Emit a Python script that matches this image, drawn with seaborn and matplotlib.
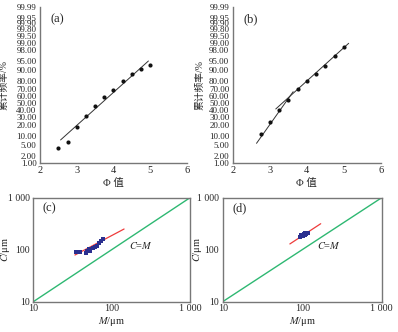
import numpy as np
import pandas as pd
import matplotlib
matplotlib.use("Agg")
import matplotlib.pyplot as plt
import seaborn as sns
from statistics import NormalDist

sns.set_theme(style="white")
plt.rcParams['font.family'] = ['Liberation Serif', 'Noto Sans CJK SC', 'DejaVu Sans']
plt.rcParams['mathtext.fontset'] = 'stix'

# ---- data: panel (a)
phi_a = [2.5, 2.75, 3.0, 3.25, 3.5, 3.75, 4.0, 4.25, 4.5, 4.75, 5.0]
pct_a = [4.0, 6.4, 17.9, 30.3, 44.9, 59.6, 69.3, 79.9, 86.7, 90.8, 92.9]
fit_a_phi = [2.56, 4.95]
fit_a_pct = [7.6, 94.8]

# ---- data: panel (b)
phi_b = [2.75, 3.0, 3.25, 3.5, 3.75, 4.0, 4.25, 4.5, 4.75, 5.0]
pct_b = [11.2, 23.4, 38.8, 55.1, 71.0, 80.3, 87.2, 92.4, 96.7, 98.45]
fit_b1_phi = [2.64, 3.63]
fit_b1_pct = [5.9, 66.9]
fit_b2_phi = [3.16, 5.13]
fit_b2_pct = [40.8, 98.96]

prob_ticks = [1.00, 2.00, 5.00, 10.00, 20.00, 30.00, 40.00, 50.00, 60.00, 70.00,
              80.00, 90.00, 95.00, 98.00, 99.00, 99.50, 99.80, 99.90, 99.95, 99.99]
phi_ticks = [2, 3, 4, 5, 6]

# ---- data: panel (c)
M_c = [35, 37.5, 40, 47, 49, 51.5, 53, 57, 61, 65, 69, 73, 77]
C_c = [90, 91, 89, 88, 94, 101, 96, 108, 115, 120, 134, 148, 160]
fit_c_M = [34, 144]
fit_c_C = [79, 250]

# ---- data: panel (d)
M_d = [94, 97, 100, 102, 105, 107, 110, 113, 116, 118]
C_d = [178, 188, 195, 183, 200, 192, 205, 198, 212, 208]
fit_d_M = [70, 171]
fit_d_C = [129, 316]

cm_line = [10, 1000]
log_ticks = [10, 100, 1000]
log_labels = ['10', '100', '1 000']

nd = NormalDist()
_ppf = np.vectorize(nd.inv_cdf, otypes=[float])
_cdf = np.vectorize(nd.cdf, otypes=[float])

def fwd(p):
    p = np.clip(np.asarray(p, dtype=float) / 100.0, 1e-9, 1 - 1e-9)
    return _ppf(p)

def inv(z):
    return _cdf(np.asarray(z, dtype=float)) * 100.0

fig = plt.figure(figsize=(3.98, 3.32), dpi=100)
ax_a = fig.add_axes([0.1005, 0.509, 0.3693, 0.470])
ax_b = fig.add_axes([0.585, 0.509, 0.372, 0.470])
ax_c = fig.add_axes([0.0837, 0.0913, 0.3937, 0.3132])
ax_d = fig.add_axes([0.5595, 0.0913, 0.3995, 0.3132])

spine_col = '#777777'
cjk = ['Liberation Serif', 'Noto Sans CJK SC']

def style_top(ax, label, ylab_x):
    ax.set_yscale('function', functions=(fwd, inv))
    ax.set_ylim(1.0, 99.99)
    ax.set_xlim(2, 6)
    ax.set_yticks(prob_ticks)
    ax.set_yticklabels([f"{t:.2f}" for t in prob_ticks])
    ax.yaxis.set_minor_locator(matplotlib.ticker.NullLocator())
    ax.set_xticks(phi_ticks)
    ax.set_xticklabels([str(t) for t in phi_ticks])
    for s in ['top', 'right']:
        ax.spines[s].set_visible(False)
    for s in ['left', 'bottom']:
        ax.spines[s].set_color(spine_col)
        ax.spines[s].set_linewidth(1.0)
    ax.tick_params(axis='x', direction='in', length=2.5, width=0.8, color=spine_col,
                   labelsize=7.5, pad=2)
    ax.tick_params(axis='y', direction='out', length=2, width=0.6, color=spine_col,
                   labelsize=6.5, pad=0.5)
    ax.set_xlabel('Φ 值', fontsize=7.5, family=cjk, labelpad=2)
    ax.set_ylabel('累计频率/%', fontsize=7, family=cjk)
    ax.yaxis.set_label_coords(ylab_x, 0.5)
    ax.text(0.07, 0.92, label, transform=ax.transAxes, fontsize=9, ha='left', va='center')

def style_bottom(ax, label, txt_xy, ylab_x):
    ax.set_xscale('log')
    ax.set_yscale('log')
    ax.set_xlim(10, 1000)
    ax.set_ylim(10, 1000)
    ax.set_xticks(log_ticks)
    ax.set_xticklabels(log_labels)
    ax.set_yticks(log_ticks)
    ax.set_yticklabels(log_labels)
    ax.xaxis.set_minor_locator(matplotlib.ticker.NullLocator())
    ax.yaxis.set_minor_locator(matplotlib.ticker.NullLocator())
    for s in ax.spines.values():
        s.set_color(spine_col)
        s.set_linewidth(1.0)
    ax.tick_params(axis='x', direction='in', length=2.5, width=0.8, color=spine_col,
                   labelsize=7.2, pad=2)
    ax.tick_params(axis='y', direction='out', length=2, width=0.8, color=spine_col,
                   labelsize=7.0, pad=0.5)
    ax.set_xlabel('$\\mathit{M}$/μm', fontsize=7.5, labelpad=1)
    ax.set_ylabel('$\\mathit{C}$/μm', fontsize=7.5)
    ax.yaxis.set_label_coords(ylab_x, 0.5)
    ax.text(0.06, 0.90, label, transform=ax.transAxes, fontsize=9, ha='left', va='center')
    ax.text(txt_xy[0], txt_xy[1], '$\\mathit{C}$=$\\mathit{M}$', fontsize=7.5, ha='left', va='center')

# (a)
sns.scatterplot(x=phi_a, y=pct_a, ax=ax_a, color='#111111', s=9, linewidth=0, zorder=3)
sns.lineplot(x=fit_a_phi, y=fit_a_pct, ax=ax_a, color='#333333', linewidth=0.7)
style_top(ax_a, '(a)', -0.215)

# (b)
sns.scatterplot(x=phi_b, y=pct_b, ax=ax_b, color='#111111', s=9, linewidth=0, zorder=3)
sns.lineplot(x=fit_b1_phi, y=fit_b1_pct, ax=ax_b, color='#333333', linewidth=0.7)
sns.lineplot(x=fit_b2_phi, y=fit_b2_pct, ax=ax_b, color='#333333', linewidth=0.7)
style_top(ax_b, '(b)', -0.19)

# (c)
sns.lineplot(x=cm_line, y=cm_line, ax=ax_c, color='#2eb872', linewidth=1.0)
sns.lineplot(x=fit_c_M, y=fit_c_C, ax=ax_c, color='#ee3b3b', linewidth=0.9)
sns.scatterplot(x=M_c, y=C_c, ax=ax_c, color='#2b2f8f', s=10, marker='s', linewidth=0, zorder=3)
style_bottom(ax_c, '(c)', (165, 118), -0.135)

# (d)
sns.lineplot(x=cm_line, y=cm_line, ax=ax_d, color='#2eb872', linewidth=1.0)
sns.lineplot(x=fit_d_M, y=fit_d_C, ax=ax_d, color='#ee3b3b', linewidth=0.9)
sns.scatterplot(x=M_d, y=C_d, ax=ax_d, color='#2b2f8f', s=10, marker='s', linewidth=0, zorder=3)
style_bottom(ax_d, '(d)', (155, 118), -0.12)

fig.savefig('out.png', dpi=100)
